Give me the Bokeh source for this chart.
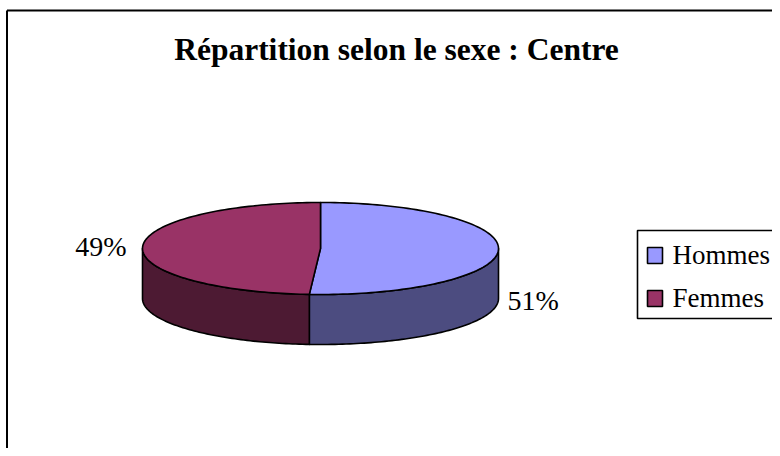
import numpy as np
from bokeh.plotting import figure
from bokeh.models import Range1d
from bokeh.embed import file_html
from bokeh.resources import INLINE
from bokeh.core.properties import value

# ---- data ----
title = "Répartition selon le sexe : Centre"
categories = ["Hommes", "Femmes"]
values = [51, 49]
labels = ["51%", "49%"]
top_colors = ["#9999FF", "#993366"]
side_colors = ["#4C4C80", "#4D1A33"]

FONT = "Liberation Serif"

W, H = 772, 448
p = figure(width=W, height=H, output_backend="svg", toolbar_location=None,
           x_range=Range1d(0, W), y_range=Range1d(H, 0),
           min_border=0, outline_line_color=None)
p.axis.visible = False
p.grid.visible = False
p.background_fill_color = "white"
p.border_fill_color = "white"

# frame
p.segment(x0=[6.5, 6.5], y0=[10, 10], x1=[6.5, 800], y1=[470, 10], line_color="black", line_width=2)

# pie geometry
cx, cy, rx, ry, depth = 320.0, 248.0, 178.0, 46.0, 50.0

def pt(a_deg):
    a = np.radians(a_deg)
    return cx + rx * np.sin(a), cy - ry * np.cos(a)

total = float(sum(values))
bounds = []
acc = 0.0
for v in values:
    a1 = acc / total * 360.0
    acc += v
    a2 = acc / total * 360.0
    bounds.append((a1, a2))

# side walls
sx, sy, sc = [], [], []
for (a1, a2), col in zip(bounds, side_colors):
    f1, f2 = max(a1, 90.0), min(a2, 270.0)
    if f2 <= f1:
        continue
    ang = np.linspace(f1, f2, 80)
    xs, ys = pt(ang)
    px = list(xs) + list(xs[::-1])
    py = list(ys) + list((ys + depth)[::-1])
    sx.append(px); sy.append(py); sc.append(col)
p.patches(sx, sy, fill_color=sc, line_color="black", line_width=1.6, line_join="round")

# top faces
tx, ty = [], []
for (a1, a2) in bounds:
    ang = np.linspace(a1, a2, 120)
    xs, ys = pt(ang)
    tx.append([cx] + list(xs)); ty.append([cy] + list(ys))
p.patches(tx, ty, fill_color=top_colors, line_color="black", line_width=1.6, line_join="round")

def mid(baseline, size):
    return baseline - 0.34 * size

# percentage labels
p.text(x=[507], y=[mid(310, 28)], text=[labels[0]], text_font=value(FONT), text_font_size="28px",
       text_align="left", text_baseline="middle", text_color="black")
p.text(x=[126], y=[mid(256, 28)], text=[labels[1]], text_font=value(FONT), text_font_size="28px",
       text_align="right", text_baseline="middle", text_color="black")

# title
p.text(x=[396], y=[mid(60, 31.5)], text=[title], text_font=value(FONT), text_font_size="31.5px",
       text_font_style="bold", text_align="center", text_baseline="middle", text_color="black")

# legend
p.quad(left=[637], right=[777], top=[230], bottom=[318], fill_color="white",
       line_color="black", line_width=1.6)
sw_top = [247, 290]
p.quad(left=[647, 647], right=[662, 662], top=sw_top, bottom=[t + 16 for t in sw_top],
       fill_color=top_colors, line_color="black", line_width=1.6)
p.text(x=[672, 672], y=[mid(264, 27), mid(307, 27)], text=categories, text_font=value(FONT),
       text_font_size="27px", text_align="left", text_baseline="middle", text_color="black")

open("out.html", "w").write(file_html(p, INLINE))
